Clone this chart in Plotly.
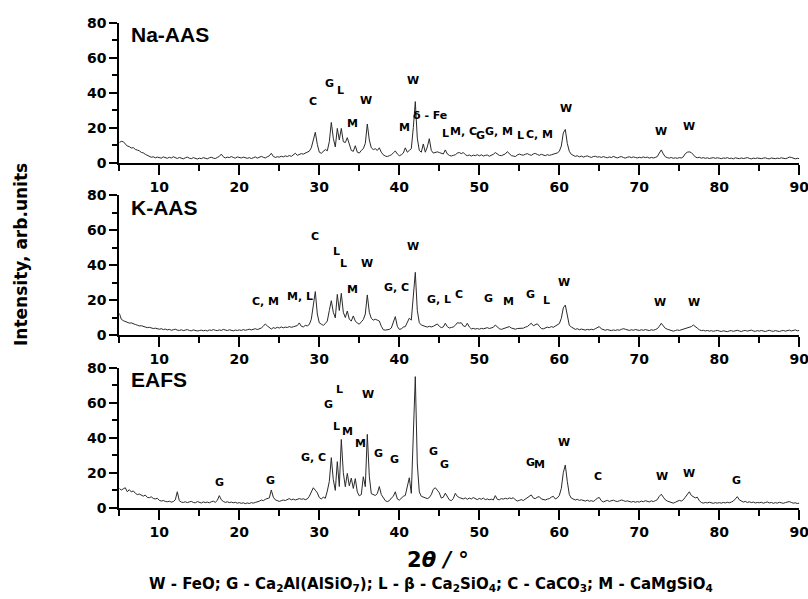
import numpy as np
import plotly.graph_objects as go

# 2-theta grid (degrees), 0.25 deg step from 5 to 90
two_theta = np.round(np.arange(5.0, 90.001, 0.25), 2)

na_aas = [
    11.5, 12.2, 12.0, 10.5, 9.5, 9.2, 8.4, 8.6, 7.6, 7.2, 6.8, 5.9, 5.6, 4.8, 4.1, 3.6, 3.1, 3.4, 2.8, 3.2,
    3.0, 2.6, 3.3, 2.8, 2.5, 3.1, 2.7, 3.4, 2.9, 2.4, 3.0, 2.6, 2.2, 2.8, 3.2, 2.6, 2.3, 2.9, 2.5, 2.1,
    2.6, 2.3, 2.9, 2.5, 2.2, 2.8, 3.1, 2.6, 2.4, 3.0, 3.6, 4.9, 3.4, 2.7, 3.2, 2.9, 3.5, 3.0, 2.6, 3.3,
    3.0, 2.7, 3.2, 2.8, 2.5, 2.9, 2.4, 2.8, 3.3, 2.6, 3.0, 3.6, 3.1, 2.7, 3.4, 3.9, 5.4, 3.6, 3.0, 3.4,
    3.2, 3.7, 3.3, 3.9, 3.5, 4.1, 3.6, 4.3, 5.4, 4.2, 4.8, 5.2, 4.9, 5.6, 6.0, 6.6, 8.5, 13.0, 17.4, 10.5,
    6.0, 5.4, 6.2, 7.5, 6.8, 12.0, 23.0, 14.0, 9.0, 19.6, 13.0, 19.6, 12.0, 11.5, 14.3, 10.0, 7.0, 6.5, 9.7, 6.0,
    5.5, 7.0, 8.0, 11.0, 22.1, 13.0, 8.5, 7.5, 8.0, 7.0, 8.5, 6.0, 4.5, 3.8, 3.5, 4.0, 4.5, 5.6, 6.7, 5.0,
    4.0, 4.5, 5.5, 8.5, 6.0, 7.0, 8.0, 20.0, 34.9, 14.0, 7.0, 6.0, 10.7, 6.0, 9.0, 13.7, 7.0, 5.5, 6.0, 6.2,
    5.8, 5.5, 5.0, 7.3, 5.0, 4.2, 3.8, 4.2, 4.5, 5.5, 5.8, 5.2, 5.8, 4.6, 4.0, 4.4, 3.8, 4.3, 4.0, 4.6,
    3.9, 4.5, 3.8, 4.2, 4.4, 3.7, 4.1, 4.8, 5.8, 4.9, 4.2, 4.0, 4.6, 5.0, 6.3, 5.2, 4.1, 3.8, 3.5, 4.4,
    4.9, 4.5, 4.3, 4.8, 5.2, 4.6, 4.2, 5.0, 5.3, 4.7, 4.2, 4.8, 4.4, 4.0, 4.6, 4.2, 4.5, 4.8, 5.0, 5.6,
    6.5, 9.5, 17.0, 19.0, 11.0, 6.5, 4.8, 4.4, 3.6, 4.0, 3.3, 3.8, 3.2, 3.6, 3.9, 3.4, 3.0, 3.5, 3.7, 3.2,
    3.4, 3.0, 3.5, 3.1, 2.8, 3.3, 2.9, 3.6, 3.1, 2.7, 3.2, 3.5, 3.0, 2.6, 3.1, 3.4, 2.9, 3.3, 3.0, 2.7,
    3.1, 2.8, 3.3, 2.9, 3.2, 2.6, 3.0, 2.7, 3.0, 3.5, 5.5, 7.3, 5.0, 3.4, 2.9, 2.6, 3.0, 2.5, 2.8, 2.5,
    2.9, 2.7, 3.3, 5.2, 6.0, 6.2, 5.8, 4.4, 3.3, 2.8, 3.1, 2.6, 2.9, 2.5, 2.8, 2.4, 2.7, 2.9, 2.5, 2.8,
    2.6, 2.3, 2.7, 2.5, 2.9, 2.4, 2.6, 2.2, 2.8, 2.5, 2.3, 2.7, 2.4, 2.6, 2.9, 2.5, 2.2, 2.6, 2.4, 2.7,
    2.5, 2.3, 2.6, 2.8, 2.4, 2.2, 2.7, 2.5, 2.3, 2.6, 2.4, 2.8, 2.5, 2.3, 2.6, 3.2, 3.0, 2.4, 2.2, 2.5,
    2.3,
]

k_aas = [
    12.4, 9.0, 8.2, 7.6, 7.4, 6.8, 6.9, 6.3, 6.0, 5.6, 5.2, 5.3, 4.8, 4.6, 4.2, 4.4, 4.0, 3.7, 3.9, 3.5,
    3.3, 3.6, 3.1, 3.4, 2.9, 3.2, 2.7, 3.0, 3.3, 2.8, 2.6, 3.0, 2.5, 2.8, 3.1, 2.6, 2.4, 2.9, 2.6, 2.3,
    2.5, 2.8, 2.4, 2.7, 2.3, 2.9, 2.6, 3.1, 2.7, 2.5, 2.9, 2.6, 3.2, 2.8, 2.5, 3.0, 2.7, 2.4, 2.8, 2.6,
    2.9, 2.6, 3.1, 2.7, 3.0, 3.3, 2.9, 3.2, 3.6, 3.1, 3.5, 4.0, 5.0, 6.3, 5.2, 4.0, 3.4, 4.2, 3.8, 4.4,
    4.0, 4.6, 4.1, 4.5, 4.3, 4.8, 4.4, 4.7, 5.0, 5.4, 6.9, 5.0, 4.6, 5.5, 5.2, 6.0, 9.0, 17.0, 24.8, 12.0,
    6.9, 6.2, 5.5, 6.5, 8.0, 14.0, 19.6, 13.0, 9.8, 23.2, 14.0, 23.8, 13.0, 10.0, 13.7, 9.0, 8.0, 10.9, 8.0, 6.8,
    6.2, 7.5, 8.8, 12.0, 22.9, 13.0, 9.5, 8.5, 9.0, 8.5, 8.0, 5.0, 3.0, 2.8, 3.0, 3.2, 4.0, 7.5, 10.5, 5.0,
    3.2, 3.5, 4.5, 4.8, 7.0, 9.6, 8.5, 22.0, 35.8, 14.0, 7.0, 5.7, 5.2, 4.8, 4.5, 5.0, 4.6, 5.0, 5.5, 6.3,
    5.0, 4.2, 4.6, 6.7, 4.8, 4.0, 4.3, 4.6, 5.5, 7.0, 6.8, 7.0, 5.2, 4.8, 6.7, 4.6, 3.5, 3.8, 3.4, 3.7,
    3.3, 3.8, 3.5, 3.9, 4.2, 3.7, 4.0, 4.4, 5.7, 4.5, 3.6, 3.2, 3.5, 3.9, 4.4, 4.8, 4.0, 3.6, 3.3, 3.7,
    3.8, 4.2, 3.9, 4.5, 4.8, 5.8, 6.7, 5.3, 5.8, 6.4, 5.0, 3.7, 3.5, 4.0, 4.5, 4.2, 4.8, 4.4, 5.0, 5.6,
    6.5, 9.5, 15.5, 17.1, 10.0, 5.5, 4.6, 3.8, 3.2, 3.6, 3.0, 3.4, 3.1, 2.8, 3.2, 2.9, 3.3, 3.0, 3.6, 4.4,
    4.8, 3.5, 3.0, 2.7, 3.1, 2.8, 2.5, 2.9, 2.6, 3.0, 2.7, 3.2, 3.6, 3.3, 2.9, 2.6, 3.0, 2.7, 3.1, 2.8,
    2.6, 3.0, 2.7, 3.1, 2.8, 2.5, 3.0, 2.7, 3.1, 3.6, 5.0, 6.7, 5.2, 3.8, 3.3, 2.9, 2.6, 2.2, 2.5, 2.9,
    2.6, 3.0, 3.4, 3.6, 3.9, 4.2, 4.8, 5.7, 5.0, 3.9, 3.0, 2.5, 2.7, 2.3, 2.6, 2.2, 2.5, 2.1, 2.4, 2.6,
    2.3, 2.0, 2.4, 2.2, 1.9, 2.3, 2.5, 2.1, 2.4, 2.7, 2.3, 2.0, 2.4, 2.6, 2.2, 2.5, 2.8, 2.3, 2.1, 2.5,
    2.2, 2.6, 2.3, 2.0, 2.4, 2.7, 2.3, 2.1, 2.5, 2.2, 2.0, 2.4, 2.6, 2.2, 2.5, 2.8, 2.3, 2.6, 2.9, 2.4,
    2.6,
]

eafs = [
    11.0, 10.1, 10.8, 11.4, 9.1, 10.3, 9.0, 9.6, 8.3, 7.5, 7.8, 7.0, 6.6, 7.2, 5.9, 5.7, 6.2, 5.3, 5.0, 5.4,
    4.2, 3.8, 4.1, 3.6, 3.4, 3.7, 3.2, 3.5, 4.5, 9.1, 4.0, 3.2, 3.0, 3.4, 2.9, 3.3, 3.6, 3.0, 2.8, 3.5,
    3.1, 2.7, 3.3, 2.9, 3.2, 2.8, 3.4, 3.7, 3.1, 4.2, 6.9, 4.5, 3.6, 3.0, 3.4, 2.9, 3.2, 2.8, 3.1, 2.6,
    2.9, 2.5, 2.8, 2.3, 2.7, 2.4, 2.9, 2.6, 3.0, 3.3, 3.7, 4.4, 4.0, 4.8, 5.2, 5.6, 10.1, 6.0, 4.5, 3.8,
    3.6, 4.0, 4.4, 4.1, 4.6, 5.2, 4.5, 4.9, 4.4, 4.7, 5.2, 4.8, 5.1, 4.6, 5.0, 6.5, 9.0, 11.4, 10.0, 8.5,
    5.8, 5.0, 6.0, 5.4, 9.5, 15.0, 28.6, 16.0, 9.9, 26.3, 12.1, 39.0, 20.0, 12.0, 19.6, 12.5, 16.9, 11.0, 16.6, 9.0,
    6.8, 7.5, 17.7, 12.0, 41.9, 18.0, 8.0, 7.5, 7.0, 8.0, 12.1, 7.5, 5.5, 4.0, 3.5, 4.0, 5.5, 6.5, 9.1, 5.0,
    4.3, 5.5, 6.5, 7.0, 12.0, 17.1, 8.2, 40.0, 74.9, 25.0, 9.0, 6.5, 6.0, 5.6, 5.2, 5.8, 7.5, 10.5, 11.4, 10.0,
    8.5, 5.5, 6.0, 8.3, 6.0, 4.5, 4.0, 5.2, 8.2, 6.5, 5.8, 5.3, 5.0, 5.6, 4.8, 5.5, 5.0, 5.8, 5.2, 4.6,
    5.3, 4.8, 5.5, 4.6, 5.0, 4.5, 4.9, 4.4, 6.9, 4.8, 4.5, 5.2, 4.9, 5.4, 5.0, 5.6, 5.2, 5.7, 4.5, 3.8,
    4.2, 4.6, 4.1, 4.8, 5.5, 6.5, 7.3, 5.5, 5.2, 6.0, 6.3, 5.0, 4.8, 4.4, 4.9, 5.2, 6.0, 6.5, 5.0, 5.6,
    7.0, 11.0, 20.0, 24.4, 15.0, 7.5, 5.5, 5.0, 4.4, 4.8, 4.2, 4.5, 4.0, 3.8, 4.3, 3.7, 4.0, 3.6, 4.3, 5.5,
    5.8, 4.0, 3.3, 3.7, 4.2, 3.6, 3.9, 4.3, 3.8, 3.5, 3.9, 4.4, 4.1, 3.6, 3.9, 3.4, 3.2, 3.6, 3.1, 3.5,
    3.2, 3.8, 3.4, 4.0, 3.6, 3.3, 3.9, 3.5, 4.0, 4.6, 6.5, 7.7, 6.0, 4.5, 3.8, 3.5, 3.0, 2.6, 3.1, 3.5,
    4.2, 3.8, 4.5, 6.0, 7.5, 9.1, 7.0, 6.5, 5.6, 6.0, 4.0, 3.0, 2.6, 3.0, 2.7, 3.1, 2.8, 2.5, 2.9, 2.6,
    2.9, 2.6, 3.0, 2.7, 3.1, 2.8, 3.2, 3.8, 5.0, 6.3, 4.5, 3.8, 3.2, 3.6, 3.0, 3.4, 2.9, 3.2, 2.7, 3.0,
    2.8, 3.1, 2.6, 2.9, 3.3, 2.7, 3.0, 2.5, 2.9, 2.6, 3.1, 2.8, 2.5, 2.9, 3.2, 3.5, 3.0, 2.6, 2.8, 2.4,
    2.6,
]

panel_names = ["Na-AAS", "K-AAS", "EAFS"]

# phase annotations per panel: text, 2theta, intensity
na_lbl_text = ["C", "G", "L", "M", "W", "M", "W", "δ - Fe", "L", "M, C", "G", "G, M", "L", "C, M", "W", "W", "W"]
na_lbl_x = [29.25, 31.3, 32.6, 34.2, 35.8, 40.7, 41.7, 43.8, 45.8, 48.0, 50.2, 52.4, 55.1, 57.5, 60.8, 72.7, 76.25]
na_lbl_y = [34.9, 45.0, 41.0, 22.5, 35.4, 20.0, 46.7, 26.7, 16.8, 18.1, 15.6, 17.7, 15.8, 16.2, 31.0, 17.7, 20.6]

k_lbl_text = ["C, M", "M, L", "C", "L", "L", "M", "W", "G, C", "W", "G, L", "C", "G", "M", "G", "L", "W", "W", "W"]
k_lbl_x = [23.3, 27.6, 29.4, 32.1, 33.0, 34.2, 36.0, 39.7, 41.75, 45.0, 47.5, 51.2, 53.7, 56.4, 58.4, 60.6, 72.6, 76.8]
k_lbl_y = [19.0, 21.9, 56.2, 47.6, 40.9, 26.1, 40.9, 27.2, 50.5, 20.4, 22.9, 20.6, 19.4, 22.9, 19.6, 30.1, 18.7, 18.7]

e_lbl_text = ["G", "G", "G, C", "G", "L", "L", "M", "M", "W", "G", "G", "W", "G", "G", "G", "M", "W", "C", "W", "W", "G"]
e_lbl_x = [17.5, 23.9, 29.3, 31.2, 32.5, 32.1, 33.5, 35.2, 36.1, 37.4, 39.4, 42.7, 44.25, 45.7, 56.4, 57.5, 60.6, 64.8, 72.8, 76.25, 82.1]
e_lbl_y = [14.3, 15.3, 28.6, 58.7, 67.8, 46.3, 43.8, 36.8, 64.8, 31.0, 27.8, 80.6, 32.0, 24.8, 25.9, 24.8, 37.4, 18.1, 18.1, 19.6, 15.8]

x_ticks = [10, 20, 30, 40, 50, 60, 70, 80, 90]
y_ticks = [0, 20, 40, 60, 80]

FONT = "DejaVu Sans"
series = [na_aas, k_aas, eafs]
labels = [(na_lbl_text, na_lbl_x, na_lbl_y), (k_lbl_text, k_lbl_x, k_lbl_y), (e_lbl_text, e_lbl_x, e_lbl_y)]

W, H = 808, 599
y_domains = [[1 - 162.7 / H, 1 - 22.7 / H], [1 - 335 / H, 1 - 195 / H], [1 - 507.7 / H, 1 - 367.7 / H]]
x_domain = [119.3 / W, 799.3 / W]

fig = go.Figure()
annotations = []
layout = dict(
    width=W, height=H,
    margin=dict(l=0, r=0, t=0, b=0, autoexpand=False),
    paper_bgcolor="white", plot_bgcolor="white",
    showlegend=False,
    font=dict(family=FONT, color="black"),
)

for i in range(3):
    sfx = "" if i == 0 else str(i + 1)
    fig.add_trace(go.Scatter(
        x=two_theta, y=series[i], mode="lines",
        line=dict(color="#2a2a2a", width=1),
        xaxis="x" + sfx, yaxis="y" + sfx, hoverinfo="skip",
    ))
    layout["xaxis" + sfx] = dict(
        domain=x_domain, anchor="y" + sfx, range=[5, 90], automargin=False,
        tickvals=x_ticks, ticks="outside", ticklen=10, tickwidth=2, tickcolor="black",
        ticklabeloverflow="allow",
        showline=True, linewidth=2, linecolor="black", showgrid=False, zeroline=False,
        tickfont=dict(family=FONT, size=14, color="black", weight="bold"),
        minor=dict(tickvals=[5, 15, 25, 35, 45, 55, 65, 75, 85], ticks="outside", ticklen=6,
                   tickwidth=1.5, tickcolor="black", showgrid=False),
    )
    layout["yaxis" + sfx] = dict(
        domain=y_domains[i], anchor="x" + sfx, range=[0, 80], automargin=False,
        tickvals=y_ticks, ticks="outside", ticklen=8, tickwidth=2, tickcolor="black",
        ticklabeloverflow="allow",
        showline=True, linewidth=2, linecolor="black", showgrid=False, zeroline=False,
        tickfont=dict(family=FONT, size=14, color="black", weight="bold"),
        minor=dict(tickvals=[10, 30, 50, 70], ticks="outside", ticklen=5,
                   tickwidth=1.5, tickcolor="black", showgrid=False),
    )
    annotations.append(dict(
        text="<b>" + panel_names[i] + "</b>", x=6.25, y=73, xref="x" + sfx, yref="y" + sfx,
        xanchor="left", yanchor="middle", showarrow=False,
        font=dict(family="Liberation Sans", size=21, color="black"),
    ))
    txt, lx, ly = labels[i]
    for t, xx, yy in zip(txt, lx, ly):
        annotations.append(dict(
            text="<b>" + t + "</b>", x=xx, y=yy, xref="x" + sfx, yref="y" + sfx,
            xanchor="center", yanchor="middle", showarrow=False,
            font=dict(family=FONT, size=11, color="black"),
        ))

annotations.append(dict(
    text="<b>Intensity, arb.units</b>", x=21 / W, y=1 - 255 / H, xref="paper", yref="paper",
    textangle=-90, showarrow=False, xanchor="center", yanchor="middle",
    font=dict(family=FONT, size=17, color="black"),
))
annotations.append(dict(
    text="<b>2<i>θ</i> <i>/</i> °</b>", x=438 / W, y=1 - 560 / H, xref="paper", yref="paper",
    showarrow=False, xanchor="center", yanchor="middle",
    font=dict(family=FONT, size=21, color="black"),
))
annotations.append(dict(
    text="<b>W - FeO; G - Ca<sub>2</sub>Al(AlSiO<sub>7</sub>); L - β - Ca<sub>2</sub>SiO<sub>4</sub>; "
         "C - CaCO<sub>3</sub>; M - CaMgSiO<sub>4</sub></b>",
    x=431 / W, y=1 - 584 / H, xref="paper", yref="paper",
    showarrow=False, xanchor="center", yanchor="middle",
    font=dict(family=FONT, size=15, color="black"),
))

layout["annotations"] = annotations
fig.update_layout(**layout)
fig.write_html("out.html", config={"displayModeBar": False},
               post_script="document.body.style.margin='0px';")
